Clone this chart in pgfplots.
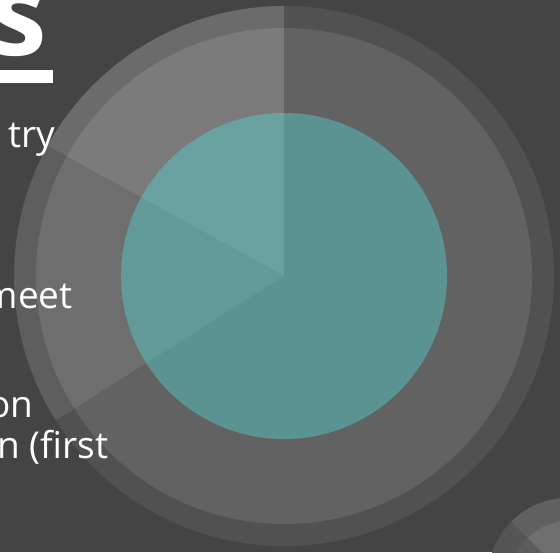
\documentclass[border=0pt]{standalone}
\usepackage{fontspec}
\setmainfont{Open Sans}
\usepackage{pgfplots}
\usepackage{pgfplotstable}
\pgfplotsset{compat=1.18}

\definecolor{bg}{HTML}{444444}
\definecolor{ringA}{HTML}{6B6B6B}
\definecolor{fillA}{HTML}{7B7B7B}
\definecolor{ringB}{HTML}{5E5E5E}
\definecolor{fillB}{HTML}{6E6E6E}
\definecolor{ringC}{HTML}{515151}
\definecolor{fillC}{HTML}{626262}
\definecolor{teal}{RGB}{79,222,219}
\definecolor{smallringD}{HTML}{555555}
\definecolor{smallringL}{HTML}{606060}
\definecolor{smallfillD}{HTML}{5C5C5C}
\definecolor{smallfillL}{HTML}{6E6E6E}

% shares of the pie (percent), counter-clockwise from 12 o'clock
\pgfplotstableread{
share
17
17
66
}\pie

% one wedge: radius (pt), start angle, end angle, colour
\newcommand\piewedge[4]{%
  \fill[#4] (axis cs:284,276) -- ++(#2:#1) arc[start angle=#2,end angle=#3,radius=#1] -- cycle;}

\begin{document}
\begin{tikzpicture}
\begin{axis}[
  x=0.5pt,y=0.5pt,
  xmin=0,xmax=560,ymin=0,ymax=552,
  y dir=reverse,
  hide axis,clip=true]
\fill[bg] (axis cs:0,0) rectangle (axis cs:560,552);

\pgfplotstablegetelem{0}{share}\of\pie \pgfmathsetmacro\sA{\pgfplotsretval}
\pgfplotstablegetelem{1}{share}\of\pie \pgfmathsetmacro\sB{\pgfplotsretval}
\pgfmathsetmacro\aA{90+3.6*\sA}
\pgfmathsetmacro\aB{\aA+3.6*\sB}

% outer ring
\piewedge{135pt}{90}{\aA}{ringA}
\piewedge{135pt}{\aA}{\aB}{ringB}
\piewedge{135pt}{\aB}{450}{ringC}
% inner disc
\piewedge{124pt}{90}{\aA}{fillA}
\piewedge{124pt}{\aA}{\aB}{fillB}
\piewedge{124pt}{\aB}{450}{fillC}
% teal centre
\fill[teal,fill opacity=0.4] (axis cs:284,276) circle[radius=81.5pt];

% second pie in the corner
\fill[smallringD] (axis cs:568,578) circle[radius=40pt];
\fill[smallringL] (axis cs:568,578) -- ++(135:40pt) arc[start angle=135,end angle=-30,radius=40pt] -- cycle;
\fill[smallfillD] (axis cs:568,578) circle[radius=28.5pt];
\fill[smallfillL] (axis cs:568,578) -- ++(135:28.5pt) arc[start angle=135,end angle=-30,radius=28.5pt] -- cycle;

% text
\node[anchor=base east,inner sep=0,text=white,font=\fontsize{58}{70}\selectfont\bfseries] at (axis cs:48,55) {s};
\fill[white] (axis cs:-5,70) rectangle (axis cs:53,83);
\begin{scope}[every node/.style={anchor=base east,inner sep=0,text=white,font=\fontsize{18.5}{23}\selectfont}]
\node at (axis cs:56,147) {try};
\node at (axis cs:73,308) {meet};
\node at (axis cs:34,417) {on};
\node at (axis cs:109,458) {n (first};
\end{scope}
\end{axis}
\end{tikzpicture}
\end{document}
